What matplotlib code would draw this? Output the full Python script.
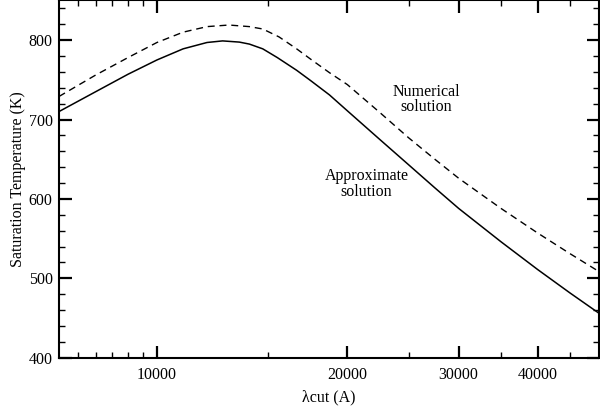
import matplotlib
matplotlib.use("Agg")
import matplotlib.pyplot as plt
from matplotlib.ticker import FixedLocator, FixedFormatter, MultipleLocator

plt.rcParams['font.family'] = ['Liberation Serif', 'DejaVu Serif']

# cutoff wavelength (A) and saturation temperature (K)
lam_approx = [7000, 8000, 9000, 10000, 11000, 12000, 12700, 13500, 14000, 14700,
              15500, 16630, 17500, 18740, 20000, 22500, 25000, 27500, 30000,
              35000, 40000, 45000, 50000]
t_approx = [710, 735, 757, 775, 789, 797, 799, 797.5, 795, 789,
            778, 762, 749, 731, 711, 675, 643, 614, 588,
            546, 511, 481.5, 456]

lam_num = [7000, 8000, 9000, 10000, 11000, 12000, 13000, 14000, 14700, 15600,
           16630, 17500, 18740, 20000, 22500, 25000, 27500, 30000, 35000,
           40000, 45000, 50000]
t_num = [729, 756, 778, 797, 810, 817, 819, 817, 814, 804,
         789, 776, 759, 744, 709, 677, 650, 626, 588,
         557, 531, 508.5]

xmajor = [10000, 20000, 30000, 40000]
xminor = [7500, 8000, 8500, 9000, 9500, 15000, 25000, 35000, 45000]

fig = plt.figure(figsize=(6.0, 4.12), dpi=100)
ax = fig.add_axes([0.0983, 0.1318, 0.9, 0.8672])

ax.plot(lam_approx, t_approx, color='black', lw=1.1)
ax.plot(lam_num, t_num, color='black', lw=1.0, dashes=(5, 3.5))

ax.set_xscale('log')
ax.set_xlim(7000, 50000)
ax.set_ylim(400, 850)

ax.xaxis.set_major_locator(FixedLocator(xmajor))
ax.xaxis.set_major_formatter(FixedFormatter([str(v) for v in xmajor]))
ax.xaxis.set_minor_locator(FixedLocator(xminor))
ax.xaxis.set_minor_formatter(FixedFormatter([''] * len(xminor)))
ax.yaxis.set_major_locator(MultipleLocator(100))
ax.yaxis.set_minor_locator(MultipleLocator(20))

ax.tick_params(which='both', direction='in', top=True, right=True,
               labelsize=11.5)
ax.tick_params(axis='x', which='both', pad=7)
ax.tick_params(axis='y', which='both', pad=4.5)
ax.tick_params(which='major', length=9, width=1.6)
ax.tick_params(which='minor', length=4.5, width=1.0)
for s in ax.spines.values():
    s.set_linewidth(1.5)

ax.set_xlabel('λcut (A)', fontsize=11.5, labelpad=4)
ax.set_ylabel('Saturation Temperature (K)', fontsize=11.5, labelpad=2)

ax.text(26660, 725, 'Numerical\nsolution', fontsize=11.5, ha='center',
        va='center', linespacing=0.95)
ax.text(21440, 619, 'Approximate\nsolution', fontsize=11.5, ha='center',
        va='center', linespacing=0.95)

fig.savefig('out.png', dpi=100)
